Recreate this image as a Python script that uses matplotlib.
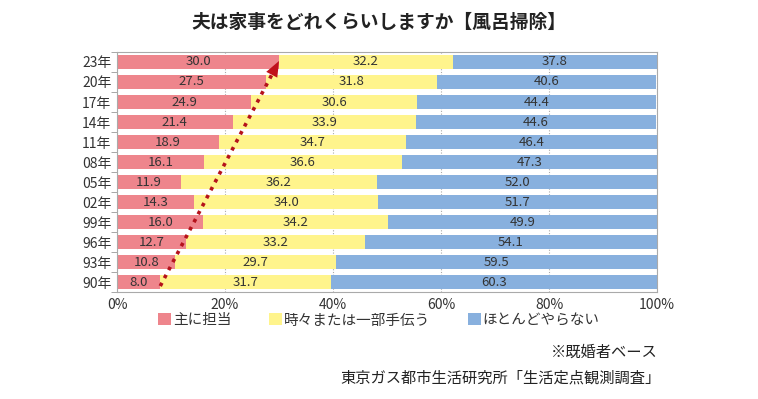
import matplotlib.pyplot as plt
from matplotlib.patches import Patch

plt.rcParams['font.family'] = ['Noto Sans CJK JP', 'DejaVu Sans']

# データ（上から23年 → 下が90年なので、下から順に並べる）
years = ['90年', '93年', '96年', '99年', '02年', '05年', '08年', '11年', '14年', '17年', '20年', '23年']
shu = [8.0, 10.8, 12.7, 16.0, 14.3, 11.9, 16.1, 18.9, 21.4, 24.9, 27.5, 30.0]        # 主に担当
tokidoki = [31.7, 29.7, 33.2, 34.2, 34.0, 36.2, 36.6, 34.7, 33.9, 30.6, 31.8, 32.2]  # 時々または一部手伝う
hotondo = [60.3, 59.5, 54.1, 49.9, 51.7, 52.0, 47.3, 46.4, 44.6, 44.4, 40.6, 37.8]   # ほとんどやらない
labels = ['主に担当', '時々または一部手伝う', 'ほとんどやらない']
xticks = [0, 20, 40, 60, 80, 100]

colors = ['#EE858C', '#FFF48C', '#88B0DE']
text_color = '#333333'

fig = plt.figure(figsize=(7.58, 3.99), dpi=100)
ax = fig.add_axes([0.1544, 0.268, 0.7124, 0.6017])

y = list(range(len(years)))
left = [0.0] * len(years)
for serie, cor in zip([shu, tokidoki, hotondo], colors):
    ax.barh(y, serie, left=left, height=0.7, color=cor, zorder=2)
    for i, v in enumerate(serie):
        ax.text(left[i] + v / 2, y[i], f'{v:.1f}', ha='center', va='center',
                fontsize=9.5, color=text_color, zorder=3)
    left = [a + b for a, b in zip(left, serie)]

# 矢印（90年 → 23年）
x0, y0 = shu[0], y[0] - 0.2
x1, y1 = shu[-1], y[-1] + 0.05
def ponto(f):
    return x0 + f * (x1 - x0), y0 + f * (y1 - y0)
ax.plot([x0, ponto(0.94)[0]], [y0, ponto(0.94)[1]], linestyle=(0, (1, 1.5)),
        color='#B5121B', lw=2.6, zorder=4)
ax.annotate('', xy=(x1, y1), xytext=ponto(0.8),
            arrowprops=dict(arrowstyle='-|>,head_length=0.8,head_width=0.32',
                            color='#C0101B', lw=0, mutation_scale=14,
                            shrinkA=0, shrinkB=0),
            zorder=5)

ax.set_xlim(0, 100)
ax.set_ylim(-0.5, len(years) - 0.5)
ax.set_xticks(xticks)
ax.set_xticklabels([f'{t}%' for t in xticks], fontsize=10, color=text_color)
ax.set_yticks(y)
ax.set_yticklabels(years, fontsize=10, color=text_color)
ax.set_yticks([i - 0.5 for i in range(len(years) + 1)], minor=True)
ax.tick_params(axis='y', which='major', length=0, pad=4)
ax.tick_params(axis='y', which='minor', length=4, color='#999999')
ax.tick_params(axis='x', length=0, pad=4)
ax.grid(axis='x', linestyle=(0, (1, 1.5)), color='#AAAAAA', lw=0.8, zorder=1)
for s in ax.spines.values():
    s.set_color('#AAAAAA')
    s.set_linewidth(0.8)

fig.text(0.5, 0.945, '夫は家事をどれくらいしますか【風呂掃除】', ha='center', va='center',
         fontsize=13.5, fontweight='bold', color='#222222')

handles = [Patch(facecolor=c, edgecolor='none') for c in colors]
fig.legend(handles, labels, loc='center', bbox_to_anchor=(0.5, 0.197), ncol=3,
           frameon=False, fontsize=10.5, handlelength=0.9, handleheight=0.9,
           handletextpad=0.1, columnspacing=2.6, labelcolor=text_color)

fig.text(0.867, 0.118, '※既婚者ベース', ha='right', va='center', fontsize=11, color='#222222')
fig.text(0.872, 0.053, '東京ガス都市生活研究所「生活定点観測調査」', ha='right', va='center',
         fontsize=11, color='#222222')

fig.savefig('out.png', dpi=100)
